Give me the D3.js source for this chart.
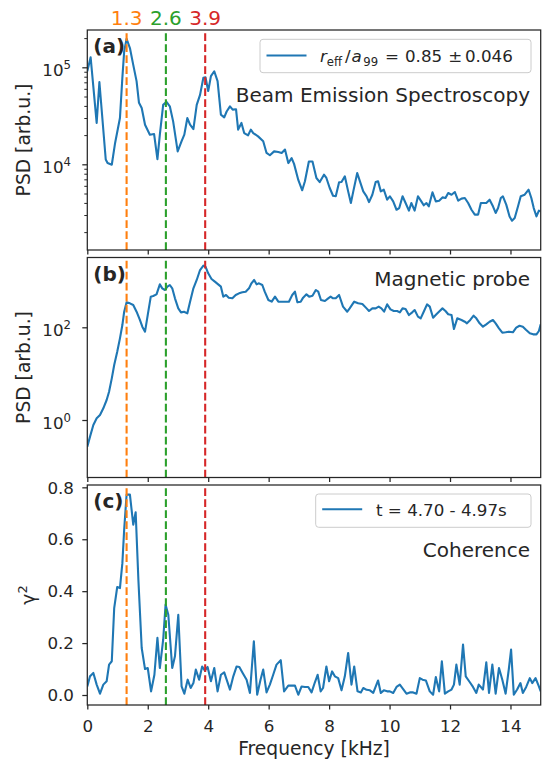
<!DOCTYPE html>
<html>
<head>
<meta charset="utf-8">
<script src="https://cdn.jsdelivr.net/npm/d3@7"></script>
<style>
  body { margin: 0; background: #fff; }
  svg { display: block; font-family: "DejaVu Sans", sans-serif; }
</style>
</head>
<body>
<svg id="chart" width="547" height="762"></svg>
<script>
// values
const besFreq = [0, 0.11, 0.31, 0.40, 0.61, 0.67, 0.81, 0.92, 1.08, 1.16, 1.22, 1.30, 1.41, 1.52, 1.63, 1.71, 1.80, 1.91, 2.07, 2.21,
  2.32, 2.40, 2.51, 2.62, 2.73, 2.84, 2.99, 3.12, 3.21, 3.31, 3.40, 3.51, 3.62, 3.73, 3.84, 3.91, 4.00, 4.09, 4.20, 4.31,
  4.42, 4.53, 4.61, 4.72, 4.81, 4.92, 4.99, 5.10, 5.19, 5.32, 5.41, 5.49, 5.65, 5.82, 5.93, 6.04, 6.18, 6.32, 6.43, 6.54,
  6.65, 6.76, 6.84, 6.98, 7.11, 7.20, 7.33, 7.45,
  7.58, 7.69, 7.83, 7.91, 8.02, 8.13, 8.22, 8.33, 8.41, 8.52, 8.63, 8.72, 8.80, 8.93, 9.02, 9.13, 9.24, 9.32, 9.43, 9.54,
  9.62, 9.71, 9.81, 9.92, 10.01, 10.12, 10.23, 10.32, 10.43, 10.53, 10.64, 10.72, 10.83, 10.94, 11.05, 11.13, 11.22, 11.30, 11.42, 11.53,
  11.64, 11.75, 11.85, 11.94, 12.05, 12.16, 12.27, 12.38, 12.49, 12.60, 12.71, 12.82, 12.93, 13.02, 13.09, 13.20, 13.31, 13.42, 13.51, 13.59,
  13.68, 13.75, 13.86, 13.97, 14.05, 14.14, 14.25, 14.34, 14.47, 14.60, 14.69, 14.77, 14.86, 14.94, 15.0]
const besPsd = [9.1e4, 1.27e5, 2.67e4, 7.05e4, 1.12e4, 1.03e4, 9.9e3, 1.66e4, 3.0e4, 7.8e4, 1.46e5, 1.97e5, 1.58e5, 1.06e5, 7.2e4, 4.3e4, 3.8e4, 2.56e4, 2.02e4, 2.05e4,
  1.13e4, 2.02e4, 4.1e4, 4.4e4, 3.96e4, 2.77e4, 1.36e4, 1.73e4, 2.02e4, 3.0e4, 2.56e4, 2.31e4, 4.1e4, 5.2e4, 7.8e4, 7.9e4, 5.7e4, 8.1e4, 9.1e4, 7.2e4,
  3.25e4, 3.05e4, 3.5e4, 3.96e4, 3.66e4, 3.7e4, 2.28e4, 2.67e4, 2.1e4, 1.99e4, 2.28e4, 2.1e4, 1.94e4, 1.73e4, 1.31e4, 1.24e4, 1.36e4, 1.34e4, 1.31e4, 1.42e4,
  1.03e4, 1.16e4, 1.01e4, 6.9e3, 5.4e3, 6.7e3, 1.07e4, 1.07e4,
  7.23e3, 6.56e3, 7.82e3, 7.23e3, 5.70e3, 4.74e3, 4.68e3, 6.52e3, 6.56e3, 7.52e3, 5.26e3, 3.99e3, 5.26e3, 8.13e3, 6.67e3, 5.26e3, 4.68e3, 4.08e3, 4.86e3, 6.56e3,
  6.67e3, 5.26e3, 5.47e3, 4.32e3, 4.68e3, 4.15e3, 3.40e3, 3.54e3, 4.68e3, 3.99e3, 3.33e3, 3.99e3, 3.33e3, 4.68e3, 4.15e3, 3.78e3, 3.99e3, 3.69e3, 5.14e3, 4.15e3,
  4.22e3, 4.56e3, 4.49e3, 5.06e3, 4.86e3, 5.18e3, 4.22e3, 4.43e3, 4.49e3, 3.99e3, 3.40e3, 3.03e3, 3.03e3, 3.99e3, 3.99e3, 3.99e3, 4.32e3, 3.69e3, 3.15e3, 3.54e3,
  4.49e3, 4.68e3, 3.84e3, 2.90e3, 2.62e3, 2.79e3, 3.69e3, 4.68e3, 4.86e3, 5.47e3, 4.49e3, 3.54e3, 2.90e3, 3.33e3, 3.27e3]

const magFreq = [0, 0.09, 0.20, 0.31, 0.42, 0.53, 0.64, 0.72, 0.81, 0.89, 0.99, 1.08, 1.16, 1.22, 1.30, 1.41, 1.52, 1.63, 1.74, 1.82,
  1.91, 2.00, 2.10, 2.18, 2.29, 2.40, 2.48, 2.57, 2.65, 2.73, 2.81, 2.90, 3.01, 3.10, 3.20, 3.31, 3.40, 3.51, 3.62, 3.73,
  3.84, 3.91, 4.00, 4.11, 4.22, 4.33, 4.42, 4.50, 4.59, 4.68, 4.80, 4.91, 5.02, 5.13, 5.24, 5.35, 5.43, 5.52, 5.60, 5.68,
  5.79, 5.87, 5.99, 6.10, 6.21, 6.32, 6.43, 6.54, 6.67, 6.78, 6.87, 6.95, 7.06, 7.14, 7.25, 7.34, 7.45,
  7.56, 7.64, 7.73, 7.86, 7.97, 8.05, 8.13, 8.22, 8.33, 8.46, 8.60, 8.68, 8.83, 8.96, 9.10, 9.24, 9.32, 9.43, 9.54, 9.64,
  9.73, 9.82, 9.92, 10.03, 10.14, 10.25, 10.34, 10.43, 10.53, 10.64, 10.75, 10.83, 10.94, 11.03, 11.13, 11.24, 11.33, 11.44, 11.55, 11.66,
  11.75, 11.85, 11.94, 12.05, 12.13, 12.24, 12.38, 12.49, 12.56, 12.67, 12.78, 12.87, 12.98, 13.09, 13.20, 13.31, 13.42, 13.51, 13.62, 13.73,
  13.84, 13.95, 14.08, 14.19, 14.30, 14.41, 14.52, 14.64, 14.75, 14.86, 14.94, 15.0]
const magPsd = [0.266, 0.438, 0.780, 1.09, 1.28, 1.79, 2.70, 4.08, 7.92, 15.4, 29.8, 57.8, 112, 217, 346, 329, 303, 217, 144, 103,
  80.5, 185, 458, 473, 514, 845, 693, 638, 753, 818, 693, 422, 256, 210, 217, 200, 357, 693, 1050, 1720,
  2140, 2030, 1460, 1100, 966, 845, 753, 458, 498, 436, 422, 498, 541, 569, 587, 693, 889, 1050, 845, 889,
  818, 587, 388, 357, 458, 357, 357, 357, 357, 498, 587, 346, 357, 436, 514, 458, 481,
  638, 587, 388, 370, 422, 458, 422, 422, 498, 279, 217, 256, 357, 329, 318, 256, 225, 256, 256, 279,
  256, 217, 313, 244, 225, 225, 210, 256, 248, 184, 210, 236, 170, 156, 217, 313, 279, 161, 191, 225,
  256, 225, 191, 184, 91.8, 156, 144, 132, 122, 144, 178, 156, 122, 103, 116, 132, 144, 122, 95.1, 76.6,
  78.0, 80.5, 78.0, 98.2, 108, 103, 87.5, 74.1, 70.5, 70.5, 83.2, 116]

const cohFreq = [0, 0.09, 0.20, 0.31, 0.42, 0.53, 0.64, 0.72, 0.81, 0.89, 0.99, 1.08, 1.16, 1.22, 1.30, 1.41, 1.52, 1.60, 1.69, 1.80,
  1.91, 2.00, 2.11, 2.22, 2.32, 2.40, 2.51, 2.59, 2.68, 2.81, 2.90, 3.01, 3.12, 3.21, 3.32, 3.42, 3.51, 3.59, 3.70, 3.80,
  3.89, 3.98, 4.09, 4.20, 4.31, 4.42, 4.53, 4.61, 4.72, 4.83, 4.94, 5.03, 5.14, 5.27, 5.38, 5.51, 5.62, 5.73, 5.82, 5.93,
  6.04, 6.15, 6.26, 6.40, 6.51, 6.65, 6.76, 6.87, 6.98, 7.09, 7.20, 7.31, 7.42, 7.53,
  7.62, 7.72, 7.80, 7.91, 8.00, 8.10, 8.19, 8.30, 8.41, 8.52, 8.63, 8.74, 8.83, 8.94, 9.05, 9.13, 9.24, 9.35, 9.46, 9.62,
  9.71, 9.81, 9.92, 10.01, 10.12, 10.23, 10.34, 10.45, 10.56, 10.67, 10.78, 10.89, 11.00, 11.09, 11.20, 11.33, 11.44, 11.53, 11.64, 11.73,
  11.83, 11.94, 12.05, 12.13, 12.21, 12.32, 12.43, 12.52, 12.65, 12.76, 12.87, 12.95, 13.09, 13.20, 13.29, 13.40, 13.51, 13.62, 13.73, 13.84,
  13.95, 14.02, 14.11, 14.22, 14.33, 14.41, 14.52, 14.64, 14.72, 14.83, 14.94, 15.0]
const cohVal = [0.033, 0.072, 0.085, 0.040, 0.005, 0.040, 0.053, 0.117, 0.130, 0.335, 0.416, 0.412, 0.508, 0.637, 0.772, 0.772, 0.656, 0.704, 0.444, 0.181,
  0.100, 0.104, 0.014, 0.078, 0.220, 0.104, 0.213, 0.348, 0.309, 0.104, 0.149, 0.309, 0.033, 0.005, 0.059, 0.027, 0.046, 0.098, 0.059, 0.110,
  0.094, 0.108, 0.053, 0.104, 0.014, 0.078, 0.087, 0.059, 0.021, 0.072, 0.110, 0.108, 0.085, 0.059, 0.008, 0.207, 0.001, 0.059, 0.098, 0.010,
  0.040, 0.078, 0.117, 0.134, 0.014, 0.036, 0.036, 0.036, 0.001, 0.033, 0.031, 0.031, 0.010, 0.049,
  0.078, 0.014, 0.027, 0.110, 0.053, 0.091, 0.072, 0.065, 0.018, 0.072, 0.162, 0.040, 0.110, 0.014, 0.010, 0.027, 0.020, 0.018, 0.008, 0.056,
  0.008, 0.018, 0.014, 0.014, 0.008, 0.031, 0.040, 0.023, 0.005, 0.010, 0.010, 0.005, 0.065, 0.059, 0.056, 0.014, 0.001, 0.069, 0.014, 0.130,
  0.005, 0.014, 0.021, 0.040, 0.117, 0.040, 0.194, 0.072, 0.050, 0.031, 0.008, 0.040, 0.021, 0.126, 0.008, 0.117, 0.005, 0.104, 0.059, 0.005,
  0.104, 0.175, 0.001, 0.021, 0.046, 0.008, 0.031, 0.065, 0.046, 0.065, 0.033, 0.014]

const modeFreqs = [1.3, 2.6, 3.9]
const modeLabels = ['1.3', '2.6', '3.9']
const modeColors = ['#ff7f0e', '#2ca02c', '#d62728']

const xTicks = [0, 2, 4, 6, 8, 10, 12, 14]
const yTicksA = [1e4, 1e5]
const yMinorA = [2e3, 3e3, 4e3, 5e3, 6e3, 7e3, 8e3, 9e3, 2e4, 3e4, 4e4, 5e4, 6e4, 7e4, 8e4, 9e4, 2e5]
const yTicksB = [1, 100]
const yTicksC = [0, 0.2, 0.4, 0.6, 0.8]

const ink = '#262626'
const blue = '#1f77b4'
const tickFont = 16.7
const svg = d3.select('#chart')

const x = d3.scaleLinear().domain([0, 15]).range([87.3, 540.7])

const panels = [
  {
    id: 'a', top: 30, bottom: 250,
    y: d3.scaleLog().domain([1308, 2.424e5]),
    data: d3.zip(besFreq, besPsd), ticks: yTicksA, minor: yMinorA, log: true,
    tag: '(a)', note: 'Beam Emission Spectroscopy', ylabel: 'PSD [arb.u.]'
  },
  {
    id: 'b', top: 257.5, bottom: 477.5,
    y: d3.scaleLog().domain([0.0575, 3206]),
    data: d3.zip(magFreq, magPsd), ticks: yTicksB, minor: [], log: true,
    tag: '(b)', note: 'Magnetic probe', ylabel: 'PSD [arb.u.]'
  },
  {
    id: 'c', top: 485, bottom: 705,
    y: d3.scaleLinear().domain([-0.0385, 0.809]),
    data: d3.zip(cohFreq, cohVal), ticks: yTicksC, minor: [], log: false,
    tag: '(c)', note: 'Coherence', ylabel: null
  }
]

panels.forEach(p => {
  p.y.range([p.bottom, p.top])
  const x0 = x.range()[0], x1 = x.range()[1]

  svg.append('clipPath').attr('id', `clip-${p.id}`)
    .append('rect').attr('x', x0).attr('y', p.top).attr('width', x1 - x0).attr('height', p.bottom - p.top)

  const g = svg.append('g').attr('clip-path', `url(#clip-${p.id})`)

  const line = d3.line().x(d => x(d[0])).y(d => p.y(d[1]))
  g.append('path')
    .datum(p.data)
    .attr('fill', 'none')
    .attr('stroke', blue)
    .attr('stroke-width', 2.1)
    .attr('stroke-linejoin', 'round')
    .attr('d', line)

  // dashed mode markers, drawn bottom-up like axvline
  g.selectAll('line.mode')
    .data(modeFreqs)
    .enter()
    .append('line')
    .attr('x1', d => x(d)).attr('x2', d => x(d))
    .attr('y1', p.bottom).attr('y2', p.top)
    .attr('stroke', (d, i) => modeColors[i])
    .attr('stroke-width', 2.1)
    .attr('stroke-dasharray', '7.7,3.3')

  // x axis ticks (labels only on the bottom panel)
  const xa = svg.append('g')
    .attr('transform', `translate(0,${p.bottom})`)
    .call(d3.axisBottom(x).tickValues(xTicks).tickSize(4.5).tickSizeOuter(0)
      .tickFormat(p.id === 'c' ? d3.format('d') : ''))
  xa.select('.domain').remove()
  xa.selectAll('line').attr('stroke', ink).attr('stroke-width', 1.25)
  xa.selectAll('text').attr('fill', ink).attr('font-size', tickFont)
    .attr('font-family', 'DejaVu Sans').attr('y', 26.7).attr('dy', null)

  // y axis
  const ya = svg.append('g')
    .attr('transform', `translate(${x0},0)`)
    .call(d3.axisLeft(p.y).tickValues(p.ticks).tickSize(5).tickSizeOuter(0).tickFormat(''))
  ya.select('.domain').remove()
  ya.selectAll('line').attr('stroke', ink).attr('stroke-width', 1.25)
  ya.selectAll('.tick text').remove()

  if (p.minor.length) {
    const ym = svg.append('g')
      .attr('transform', `translate(${x0},0)`)
      .call(d3.axisLeft(p.y).tickValues(p.minor).tickSize(3).tickSizeOuter(0).tickFormat(''))
    ym.select('.domain').remove()
    ym.selectAll('line').attr('stroke', ink).attr('stroke-width', 1)
  }

  p.ticks.forEach(v => {
    const yy = p.y(v)
    if (p.log) {
      const t = svg.append('text')
        .attr('x', 71).attr('y', yy + 8.6)
        .attr('text-anchor', 'end')
        .attr('fill', ink)
        .attr('font-size', tickFont)
      t.append('tspan').text('10')
      t.append('tspan').attr('font-size', 11.7).attr('dy', -7).text(String(Math.round(Math.log10(v))))
    } else {
      svg.append('text')
        .attr('x', 74).attr('y', yy + 6.2)
        .attr('text-anchor', 'end')
        .attr('fill', ink)
        .attr('font-size', tickFont)
        .text(d3.format('.1f')(v))
    }
  })

  // frame
  svg.append('rect')
    .attr('x', x0).attr('y', p.top)
    .attr('width', x1 - x0).attr('height', p.bottom - p.top)
    .attr('fill', 'none').attr('stroke', ink).attr('stroke-width', 1.25)

  svg.append('text')
    .attr('x', 93.3).attr('y', p.top + 23.2)
    .attr('font-size', 20).attr('font-weight', 'bold').attr('fill', ink)
    .text(p.tag)

  p.noteText = svg.append('text')
    .attr('x', 530).attr('text-anchor', 'end')
    .attr('font-size', 20).attr('fill', ink)
    .text(p.note)

  if (p.ylabel) {
    const cy = (p.top + p.bottom) / 2
    svg.append('text')
      .attr('transform', `translate(29.5,${cy}) rotate(-90)`)
      .attr('text-anchor', 'middle')
      .attr('font-size', 18.7).attr('fill', ink)
      .text(p.ylabel)
  }
})

panels[0].noteText.attr('y', 101.7)
panels[1].noteText.attr('y', 285.5)
panels[2].noteText.attr('y', 557)

// gamma^2 label
const gl = svg.append('text')
  .attr('transform', `translate(35,595) rotate(-90)`)
  .attr('text-anchor', 'middle')
  .attr('font-size', 18.7).attr('fill', ink)
gl.append('tspan').text('γ')
gl.append('tspan').attr('font-size', 13).attr('dy', -8).text('2')

// mode labels above panel (a)
svg.selectAll('text.mode')
  .data(modeFreqs)
  .enter()
  .append('text')
  .attr('x', d => x(d)).attr('y', 25)
  .attr('text-anchor', 'middle')
  .attr('font-size', 20)
  .attr('fill', (d, i) => modeColors[i])
  .text((d, i) => modeLabels[i])

svg.append('text')
  .attr('x', 314).attr('y', 755)
  .attr('text-anchor', 'middle')
  .attr('font-size', 18.7).attr('fill', ink)
  .text('Frequency [kHz]')

// legends
function legendBox(x0, y0, x1, y1, lineY) {
  svg.append('rect')
    .attr('x', x0).attr('y', y0).attr('width', x1 - x0).attr('height', y1 - y0)
    .attr('rx', 3).attr('fill', '#fff').attr('fill-opacity', 0.8)
    .attr('stroke', '#cccccc').attr('stroke-width', 1)
  svg.append('line')
    .attr('x1', x0 + 6.5).attr('x2', x0 + 46.5)
    .attr('y1', lineY).attr('y2', lineY)
    .attr('stroke', blue).attr('stroke-width', 2.1)
}

legendBox(260, 39.3, 531, 72.7, 55.5)
const tx = 320, ty = 62
const lt = svg.append('g').attr('fill', ink).attr('font-size', tickFont)
lt.append('text').attr('x', tx).attr('y', ty).attr('font-style', 'italic').text('r')
lt.append('text').attr('x', tx + 6.8).attr('y', ty + 3.6).attr('font-size', 11.7).text('eff')
lt.append('text').attr('x', tx + 25).attr('y', ty).text('/')
lt.append('text').attr('x', tx + 31.5).attr('y', ty).attr('font-style', 'italic').text('a')
lt.append('text').attr('x', tx + 43.3).attr('y', ty + 3.6).attr('font-size', 11.7).text('99')
lt.append('text').attr('x', tx + 65).attr('y', ty).text('=')
lt.append('text').attr('x', tx + 85).attr('y', ty).text('0.85')
lt.append('text').attr('x', tx + 128.3).attr('y', ty).text('±')
lt.append('text').attr('x', tx + 145).attr('y', ty).text('0.046')

legendBox(315.7, 494, 531, 527.3, 509.3)
svg.append('text')
  .attr('x', 376).attr('y', 516)
  .attr('font-size', tickFont).attr('fill', ink)
  .text('t = 4.70 - 4.97s')
</script>
</body>
</html>
